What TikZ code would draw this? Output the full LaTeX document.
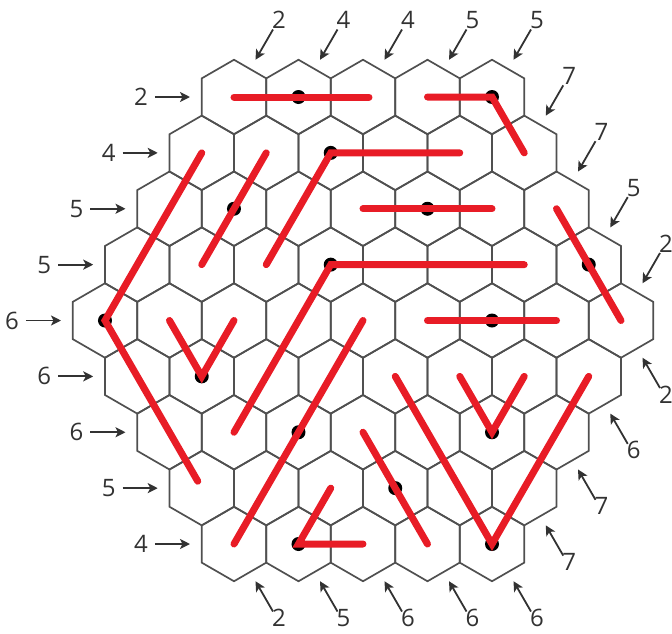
\documentclass[tikz,border=0pt]{standalone}
\usepackage{fontspec}
\setmainfont{Open Sans}
\usepackage{tikz}
\usetikzlibrary{shapes.geometric, arrows.meta}
\definecolor{cellgray}{RGB}{80,80,80}
\definecolor{pathred}{RGB}{232,28,38}
\definecolor{cluegray}{RGB}{50,50,50}
\tikzstyle{cell} = [regular polygon,
regular polygon sides=6,
shape border rotate=30,
minimum size=74.5pt,
inner sep=0pt, outer sep=0pt,
draw=cellgray, line width=1.7pt]
\tikzstyle{dot} = [circle, fill=black,
minimum size=14pt, inner sep=0pt]
\tikzstyle{redline} = [draw=pathred,
line width=7pt, line cap=round]
\tikzstyle{arrow} = [draw=cluegray, line width=1.8pt,
-{Stealth[length=10pt,width=10pt,inset=2.5pt]}]
\tikzstyle{clue} = [text=cluegray, inner sep=0pt,
font=\fontsize{24}{26}\selectfont]

\begin{document}
\begin{tikzpicture}[x=1pt, y=1pt]
\useasboundingbox (-363,-312.5) rectangle (309,320.5);

% the board
\foreach \j in {0,...,8}{
  \pgfmathtruncatemacro\last{8-abs(\j-4)}
  \foreach \i in {0,...,\last}
    \node (c\j-\i) [cell] at ({(\i-\last/2)*64.5},{(4-\j)*55.875}) {};
}

% black dots
\foreach \c in {0-1,0-4,1-2,2-1,2-4,3-3,3-7,4-0,4-6,5-1,6-2,6-5,7-3,8-1,8-4}
  \node (d\c) [dot] at (c\c) {};

% red lines
\draw [redline] (c0-0.center) -- ([xshift=6pt]c0-2.center);
\draw [redline] (c0-3.center) -- (c0-4.center) -- (c1-5.center);
\draw [redline] (c1-4.center) -- (c1-2.center) -- (c3-2.center);
\draw [redline, shorten >=8pt] (c1-0.center) -- (c4-0.center) -- (c7-0.center);
\draw [redline] (c1-1.center) -- (c3-1.center);
\draw [redline] (c2-3.center) -- (c2-5.center);
\draw [redline] (c3-6.center) -- (c3-3.center) -- (c6-1.center);
\draw [redline] (c2-6.center) -- (c4-8.center);
\draw [redline] (c4-5.center) -- (c4-7.center);
\draw [redline] (c4-1.center) -- (c5-1.center) -- (c4-2.center);
\draw [redline] (c4-4.center) -- (c8-0.center);
\draw [redline] (c5-4.center) -- (c8-4.center) -- (c5-7.center);
\draw [redline] (c5-5.center) -- (c6-5.center) -- (c5-6.center);
\draw [redline] (c6-3.center) -- (c8-3.center);
\draw [redline] (c7-2.center) -- (c8-1.center) -- (c8-2.center);

% clues from the left
\foreach \j/\n in {0/2,1/4,2/5,3/5,4/6,5/6,6/6,7/5,8/4}{
  \draw [arrow] ([xshift=-79pt]c\j-0.center) -- ([xshift=-44pt]c\j-0.center);
  \node (h\j) [clue] at ([xshift=-93pt]c\j-0.center) {\n};
}

% clues from above
\foreach \c/\n in {0-0/2,0-1/4,0-2/4,0-3/5,0-4/5,1-5/7,2-6/7,3-7/5,4-8/2}{
  \draw [arrow] ([shift={(39,67.5)}]c\c.center) -- ([shift={(21.5,37.2)}]c\c.center);
  \node (t\c) [clue] at ([shift={(45,77)}]c\c.center) {\n};
}

% clues from below
\foreach \c/\n in {8-0/2,8-1/5,8-2/6,8-3/6,8-4/6,7-5/7,6-6/7,5-7/6,4-8/2}{
  \draw [arrow] ([shift={(39,-67.5)}]c\c.center) -- ([shift={(21.5,-37.2)}]c\c.center);
  \node (b\c) [clue] at ([shift={(45,-74)}]c\c.center) {\n};
}

\end{tikzpicture}
\end{document}
